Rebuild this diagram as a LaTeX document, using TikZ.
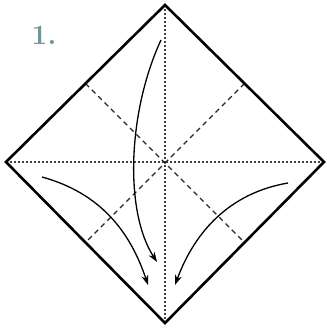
\documentclass[tikz,border=0pt]{standalone}
\usepackage{tikz}
\usetikzlibrary{arrows.meta, calc}
\definecolor{stepteal}{HTML}{6F9696}
\definecolor{stepedge}{HTML}{2F6B6B}

\begin{document}
\begin{tikzpicture}[x=1pt, y=1pt, >=Stealth,
    edgeline/.style={line width=2.6pt, line join=miter, draw=black},
    valley/.style={line width=1.4pt, dash pattern=on 5pt off 4pt, draw=black!85},
    mountain/.style={line width=1.7pt, dash pattern=on 1.7pt off 2.3pt, draw=black!75},
    fold/.style={line width=1.3pt, -{Stealth[length=10pt, width=7pt]}}]
    \useasboundingbox (0, 0) rectangle (326, 331);
    % Corners
    \coordinate (T) at (165, 326);
    \coordinate (L) at (6, 169);
    \coordinate (R) at (324, 169);
    \coordinate (B) at (165, 8);
    \coordinate (C) at (165, 168);

    % Edge midpoints
    \coordinate (TL) at ($(T)!0.5!(L)$);
    \coordinate (TR) at ($(T)!0.5!(R)$);
    \coordinate (BL) at ($(B)!0.5!(L)$);
    \coordinate (BR) at ($(B)!0.5!(R)$);

    % Step number
    \node[font=\fontsize{28}{28}\selectfont\bfseries, text=stepteal, inner sep=0pt]
        (num) at (44, 296) {1.};

    % Creases
    \draw[mountain] (L) -- (R);
    \draw[mountain] (T) -- (B);
    \draw[valley] (TL) -- (BR);
    \draw[valley] (TR) -- (BL);

    % Outline
    \draw[edgeline] (T) -- (R) -- (B) -- (L) -- cycle;

    % Fold arrows
    \coordinate (a1) at (161, 291);
    \coordinate (a2) at (157, 69);
    \coordinate (b1) at (42, 154);
    \coordinate (b2) at (148, 46);
    \coordinate (c1) at (288, 148);
    \coordinate (c2) at (175, 46);
    \draw[fold] (a1) .. controls (128, 220) and (124, 120) .. (a2);
    \draw[fold] (b1) .. controls (100, 138) and (130, 100) .. (b2);
    \draw[fold] (c1) .. controls (230, 138) and (195, 100) .. (c2);
\end{tikzpicture}
\end{document}
